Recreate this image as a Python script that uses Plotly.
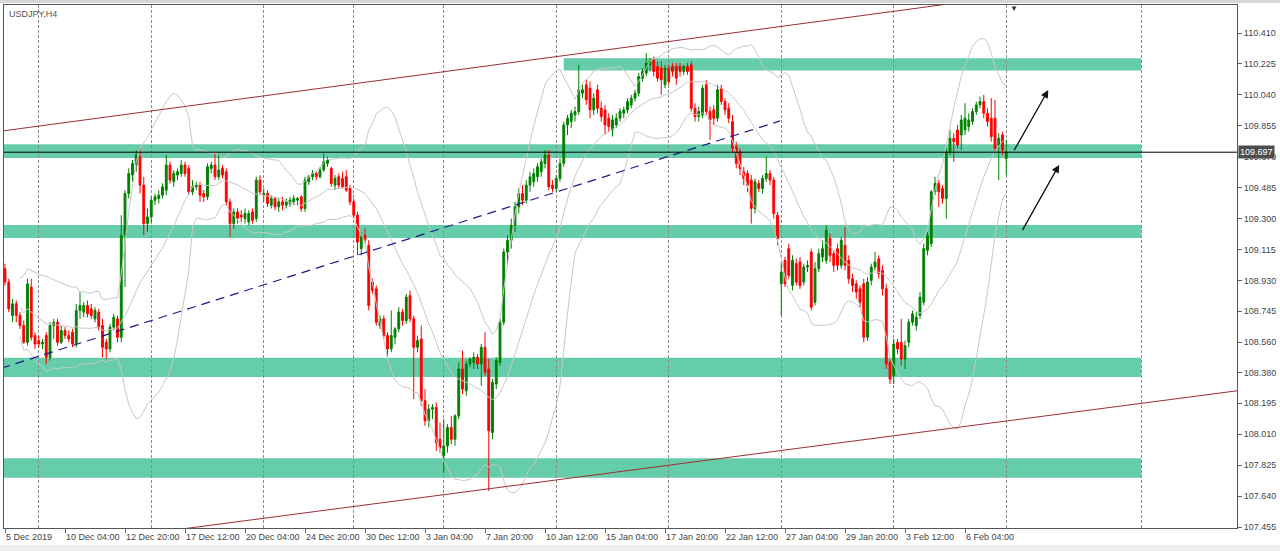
import plotly.graph_objects as go
import pandas as pd

# ---------------- data (USDJPY H4, bar index 0 = 5 Dec 2019 12:00) ----------------
bar_open = [
    109.00, 108.92, 108.72, 108.79, 108.72, 108.66, 108.56, 108.89, 108.60, 108.57,
    108.55, 108.60, 108.47, 108.66, 108.68, 108.56, 108.63, 108.60, 108.62, 108.55,
    108.75, 108.74, 108.78, 108.76, 108.70, 108.74, 108.66, 108.56, 108.52, 108.65,
    108.70, 108.59, 109.20, 109.45, 109.56, 109.62, 109.67, 109.50, 109.27, 109.31,
    109.41, 109.42, 109.44, 109.47, 109.62, 109.52, 109.56, 109.57, 109.62, 109.60,
    109.46, 109.49, 109.50, 109.45, 109.43, 109.60, 109.62, 109.55, 109.60, 109.58,
    109.40, 109.27, 109.34, 109.32, 109.30, 109.28, 109.34, 109.30, 109.53, 109.44,
    109.45, 109.38, 109.42, 109.37, 109.40, 109.38, 109.39, 109.40, 109.41, 109.43,
    109.36, 109.52, 109.55, 109.57, 109.55, 109.59, 109.63, 109.60, 109.50, 109.55,
    109.54, 109.55, 109.48, 109.40, 109.32, 109.12, 109.20, 109.14, 108.92, 108.88,
    108.66, 108.70, 108.60, 108.52, 108.59, 108.64, 108.74, 108.69, 108.84, 108.70,
    108.53, 108.58, 108.21, 108.09, 108.16, 108.17, 107.98, 107.88, 107.94, 108.05,
    107.98, 108.12, 108.40, 108.27, 108.43, 108.44, 108.47, 108.43, 108.53, 108.40,
    108.02, 108.31, 108.44, 108.68, 109.10, 109.17, 109.26, 109.37, 109.45, 109.41,
    109.50, 109.52, 109.55, 109.58, 109.63, 109.68, 109.50, 109.48, 109.54, 109.63,
    109.86, 109.88, 109.92, 109.94, 110.05, 110.10, 110.08, 109.95, 110.07, 109.96,
    109.95, 109.90, 109.83, 109.86, 109.90, 109.93, 109.95, 109.98, 110.02, 110.05,
    110.14, 110.17, 110.22, 110.25, 110.21, 110.20, 110.10, 110.20, 110.21, 110.21,
    110.21, 110.18, 110.21, 110.22, 109.96, 109.91, 109.92, 110.10, 109.94, 109.95,
    109.90, 110.08, 110.00, 109.96, 109.88, 109.73, 109.70, 109.58, 109.57, 109.53,
    109.36, 109.51, 109.48, 109.54, 109.57, 109.53, 109.32, 108.91, 109.05, 109.12,
    108.90, 109.03, 109.04, 108.92, 109.01, 109.10, 108.80, 109.00, 109.07, 109.05,
    109.18, 109.09, 109.12, 109.02, 109.14, 109.05, 108.94, 108.91, 108.88, 108.91,
    108.59, 108.93, 109.01, 109.06, 108.99, 108.88, 108.44, 108.36, 108.56, 108.56,
    108.46, 108.56, 108.68, 108.66, 108.72, 108.80, 109.11, 109.15, 109.46, 109.51,
    109.48, 109.42, 109.70, 109.78, 109.83, 109.80, 109.83, 109.85, 109.88, 109.94,
    109.98, 110.00, 109.93, 109.90, 109.90, 109.74, 109.80, 109.66,
]
bar_high = [
    109.03, 108.94, 108.82, 108.81, 108.74, 108.69, 108.94, 108.94, 108.62, 108.60,
    108.58, 108.62, 108.68, 108.70, 108.70, 108.66, 108.65, 108.63, 108.64, 108.79,
    108.86, 108.80, 108.81, 108.79, 108.77, 108.76, 108.70, 108.58, 108.67, 108.73,
    108.72, 109.32, 109.47, 109.60, 109.65, 109.71, 109.72, 109.55, 109.36, 109.43,
    109.45, 109.47, 109.51, 109.68, 109.64, 109.59, 109.60, 109.65, 109.64, 109.62,
    109.53, 109.52, 109.52, 109.47, 109.63, 109.64, 109.69, 109.69, 109.62, 109.60,
    109.42, 109.36, 109.36, 109.35, 109.36, 109.35, 109.36, 109.55, 109.56, 109.48,
    109.47, 109.44, 109.43, 109.42, 109.43, 109.42, 109.43, 109.44, 109.43, 109.44,
    109.55, 109.56, 109.59, 109.58, 109.61, 109.69, 109.67, 109.61, 109.56, 109.57,
    109.58, 109.59, 109.50, 109.42, 109.34, 109.22, 109.24, 109.17, 108.94, 108.90,
    108.72, 108.72, 108.62, 108.75, 108.65, 108.77, 108.76, 108.85, 108.87, 108.72,
    108.60, 108.66, 108.28, 108.19, 108.19, 108.20, 108.08, 108.10, 108.07, 108.12,
    108.13, 108.44, 108.51, 108.45, 108.47, 108.50, 108.49, 108.55, 108.62, 108.46,
    108.34, 108.47, 108.70, 109.12, 109.20, 109.30, 109.40, 109.48, 109.50, 109.53,
    109.58, 109.60, 109.63, 109.66, 109.71, 109.71, 109.53, 109.56, 109.66, 109.88,
    109.92, 109.95, 109.97, 110.22, 110.10, 110.13, 110.12, 110.05, 110.10, 110.00,
    109.98, 109.93, 109.92, 109.93, 109.96, 109.97, 110.02, 110.04, 110.07, 110.17,
    110.20, 110.29, 110.26, 110.27, 110.24, 110.24, 110.22, 110.22, 110.23, 110.23,
    110.23, 110.22, 110.23, 110.24, 109.99, 109.97, 110.10, 110.13, 109.97, 109.98,
    110.10, 110.10, 110.02, 109.99, 109.92, 109.76, 109.72, 109.61, 109.59, 109.56,
    109.54, 109.53, 109.56, 109.67, 109.59, 109.55, 109.34, 109.04, 109.07, 109.15,
    109.08, 109.06, 109.07, 109.03, 109.05, 109.12, 109.04, 109.12, 109.17, 109.26,
    109.21, 109.11, 109.15, 109.19, 109.25, 109.08, 108.97, 108.93, 108.90, 108.94,
    108.95, 109.03, 109.10, 109.08, 109.02, 108.91, 108.46, 108.58, 108.58, 108.70,
    108.57, 108.70, 108.75, 108.74, 108.86, 109.15, 109.22, 109.47, 109.55, 109.53,
    109.50, 109.72, 109.83, 109.81, 109.86, 109.92, 109.99, 109.93, 109.96, 110.00,
    110.03, 110.04, 109.96, 110.02, 110.01, 109.81, 109.82, 109.77,
]
bar_low = [
    108.90, 108.74, 108.68, 108.68, 108.64, 108.55, 108.54, 108.57, 108.52, 108.53,
    108.52, 108.43, 108.45, 108.58, 108.54, 108.55, 108.58, 108.56, 108.53, 108.53,
    108.70, 108.71, 108.71, 108.70, 108.68, 108.63, 108.47, 108.46, 108.50, 108.63,
    108.56, 108.56, 108.89, 109.42, 109.52, 109.58, 109.45, 109.20, 109.22, 109.27,
    109.38, 109.39, 109.42, 109.44, 109.51, 109.49, 109.53, 109.55, 109.55, 109.44,
    109.44, 109.47, 109.40, 109.40, 109.41, 109.57, 109.53, 109.53, 109.54, 109.38,
    109.19, 109.24, 109.27, 109.28, 109.27, 109.26, 109.27, 109.28, 109.44, 109.40,
    109.37, 109.36, 109.35, 109.34, 109.35, 109.36, 109.37, 109.38, 109.38, 109.34,
    109.34, 109.50, 109.53, 109.53, 109.54, 109.58, 109.61, 109.49, 109.47, 109.48,
    109.48, 109.46, 109.38, 109.30, 109.08, 109.08, 109.15, 108.75, 108.85, 108.66,
    108.64, 108.58, 108.47, 108.50, 108.55, 108.62, 108.66, 108.67, 108.68, 108.22,
    108.50, 108.18, 108.06, 108.05, 108.10, 107.91, 107.90, 107.78, 107.90, 107.95,
    107.94, 108.10, 108.25, 108.24, 108.41, 108.40, 108.40, 108.30, 108.36, 107.67,
    107.98, 108.28, 108.42, 108.66, 109.02, 109.12, 109.22, 109.33, 109.38, 109.39,
    109.46, 109.49, 109.52, 109.55, 109.60, 109.47, 109.46, 109.46, 109.52, 109.61,
    109.80, 109.84, 109.88, 109.92, 110.02, 109.98, 109.90, 109.92, 109.93, 109.88,
    109.80, 109.82, 109.79, 109.84, 109.88, 109.90, 109.93, 109.96, 110.00, 110.03,
    110.12, 110.15, 110.18, 110.15, 110.12, 110.04, 110.08, 110.10, 110.15, 110.10,
    110.15, 110.16, 110.16, 109.94, 109.88, 109.88, 109.90, 109.92, 109.77, 109.86,
    109.88, 109.98, 109.92, 109.87, 109.70, 109.60, 109.56, 109.50, 109.46, 109.27,
    109.33, 109.46, 109.45, 109.52, 109.50, 109.30, 109.14, 108.72, 108.89, 108.94,
    108.87, 108.90, 108.88, 108.90, 108.98, 108.75, 108.78, 108.98, 109.04, 109.03,
    109.04, 108.98, 108.99, 109.00, 108.99, 108.91, 108.86, 108.82, 108.77, 108.56,
    108.57, 108.90, 108.99, 108.94, 108.84, 108.40, 108.31, 108.31, 108.49, 108.42,
    108.40, 108.53, 108.66, 108.63, 108.70, 108.78, 109.08, 109.13, 109.44, 109.37,
    109.39, 109.30, 109.68, 109.64, 109.72, 109.71, 109.80, 109.82, 109.86, 109.92,
    109.96, 109.90, 109.85, 109.76, 109.69, 109.53, 109.68, 109.56,
]
bar_close = [
    108.92, 108.76, 108.79, 108.72, 108.66, 108.56, 108.91, 108.59, 108.55, 108.55,
    108.56, 108.47, 108.66, 108.68, 108.56, 108.63, 108.60, 108.58, 108.55, 108.75,
    108.78, 108.78, 108.73, 108.72, 108.75, 108.65, 108.53, 108.52, 108.65, 108.71,
    108.59, 109.20, 109.45, 109.57, 109.63, 109.68, 109.50, 109.27, 109.31, 109.41,
    109.43, 109.44, 109.49, 109.62, 109.53, 109.57, 109.58, 109.62, 109.57, 109.46,
    109.49, 109.50, 109.44, 109.43, 109.61, 109.62, 109.55, 109.59, 109.56, 109.40,
    109.27, 109.34, 109.30, 109.31, 109.33, 109.33, 109.29, 109.53, 109.46, 109.45,
    109.39, 109.42, 109.37, 109.40, 109.38, 109.40, 109.41, 109.42, 109.42, 109.36,
    109.53, 109.55, 109.57, 109.55, 109.59, 109.64, 109.65, 109.51, 109.54, 109.50,
    109.49, 109.47, 109.40, 109.32, 109.16, 109.19, 109.17, 108.78, 108.87, 108.68,
    108.70, 108.60, 108.52, 108.60, 108.64, 108.74, 108.69, 108.83, 108.70, 108.53,
    108.57, 108.21, 108.09, 108.16, 108.17, 107.96, 107.93, 107.94, 108.05, 107.98,
    108.12, 108.40, 108.28, 108.43, 108.46, 108.47, 108.43, 108.53, 108.38, 108.03,
    108.32, 108.45, 108.68, 109.10, 109.17, 109.26, 109.37, 109.45, 109.41, 109.50,
    109.55, 109.57, 109.61, 109.64, 109.68, 109.49, 109.48, 109.54, 109.63, 109.86,
    109.90, 109.93, 109.94, 110.07, 110.07, 110.01, 109.95, 110.02, 109.96, 109.91,
    109.86, 109.85, 109.89, 109.90, 109.94, 109.95, 110.00, 110.02, 110.05, 110.15,
    110.18, 110.23, 110.24, 110.18, 110.14, 110.13, 110.20, 110.12, 110.18, 110.14,
    110.18, 110.21, 110.18, 109.96, 109.91, 109.94, 110.08, 109.94, 109.89, 109.90,
    110.07, 110.00, 109.95, 109.90, 109.72, 109.63, 109.60, 109.54, 109.50, 109.36,
    109.52, 109.48, 109.54, 109.57, 109.53, 109.33, 109.18, 108.98, 108.91, 108.96,
    109.05, 108.92, 108.90, 109.01, 109.02, 108.77, 109.00, 109.09, 109.12, 109.23,
    109.08, 109.02, 109.02, 109.17, 109.02, 108.94, 108.90, 108.86, 108.80, 108.59,
    108.92, 109.01, 109.04, 108.97, 108.88, 108.43, 108.34, 108.55, 108.52, 108.46,
    108.54, 108.68, 108.73, 108.71, 108.83, 109.12, 109.20, 109.46, 109.51, 109.46,
    109.42, 109.70, 109.78, 109.76, 109.74, 109.89, 109.90, 109.89, 109.94, 109.98,
    110.00, 109.93, 109.88, 109.79, 109.72, 109.78, 109.71, 109.697,
]
bar_index = list(range(len(bar_close)))
last_price = 109.697

# time axis labels (every 16 H4 bars)
time_tick_bars = [0, 16, 32, 48, 64, 80, 96, 112, 128, 144, 160, 176, 192, 208, 224, 240, 256]
time_tick_labels = ["5 Dec 2019", "10 Dec 04:00", "12 Dec 20:00", "17 Dec 12:00", "20 Dec 04:00",
                    "24 Dec 20:00", "30 Dec 12:00", "3 Jan 04:00", "7 Jan 20:00", "10 Jan 12:00",
                    "15 Jan 04:00", "17 Jan 20:00", "22 Jan 12:00", "27 Jan 04:00", "29 Jan 20:00",
                    "3 Feb 12:00", "6 Feb 04:00"]
# Monday 00:00 bars (weekly vertical grid)
week_start_bars = [9, 39, 69, 93, 117, 147, 177, 207, 237, 267, 303]

price_ticks = [107.455, 107.640, 107.825, 108.010, 108.195, 108.380, 108.560, 108.745, 108.930,
               109.115, 109.300, 109.485, 109.670, 109.855, 110.040, 110.225, 110.410]

# support / resistance zones
zone_start = [149, -1, -1, -1, -1]
zone_end = [303, 303, 303, 303, 303]
zone_low = [110.185, 109.662, 109.184, 108.352, 107.750]
zone_high = [110.259, 109.745, 109.262, 108.468, 107.866]

# drawn lines (bar, price)
upper_channel_bars = [-1, 255]
upper_channel_prices = [109.823, 110.594]
lower_channel_bars = [40, 330]
lower_channel_prices = [107.422, 108.274]
support_bars = [-1, 206.7]
support_prices = [108.405, 109.884]

# arrows (tail -> head)
arrow_tail_bars = [268.9, 271.1]
arrow_tail_prices = [109.700, 109.222]
arrow_head_bars = [278.2, 281.1]
arrow_head_prices = [110.069, 109.621]

bb_period = 20
bb_dev = 2.0

# ---------------- figure ----------------
closes = pd.Series(bar_close)
bb_mid = closes.rolling(bb_period, min_periods=5).mean()
bb_sd = closes.rolling(bb_period, min_periods=5).std(ddof=0)
bb_up = bb_mid + bb_dev * bb_sd
bb_lo = bb_mid - bb_dev * bb_sd

fig = go.Figure()

band_style = dict(color="#c8c8c8", width=1)
for band in (bb_up, bb_mid, bb_lo):
    fig.add_trace(go.Scatter(x=bar_index, y=band, mode="lines", line=band_style,
                             hoverinfo="skip", showlegend=False))

fig.add_trace(go.Candlestick(
    x=bar_index, open=bar_open, high=bar_high, low=bar_low, close=bar_close,
    increasing=dict(line=dict(color="#008000", width=1), fillcolor="#008000"),
    decreasing=dict(line=dict(color="#ff0000", width=1), fillcolor="#ff0000"),
    whiskerwidth=0, showlegend=False))

fig.add_trace(go.Scatter(x=upper_channel_bars, y=upper_channel_prices, mode="lines",
                         line=dict(color="#9e2f35", width=1), hoverinfo="skip", showlegend=False))
fig.add_trace(go.Scatter(x=lower_channel_bars, y=lower_channel_prices, mode="lines",
                         line=dict(color="#9e2f35", width=1), hoverinfo="skip", showlegend=False))
fig.add_trace(go.Scatter(x=support_bars, y=support_prices, mode="lines",
                         line=dict(color="#1a1a8c", width=1.2, dash="9px,6px"),
                         hoverinfo="skip", showlegend=False))

shapes = []
for x0, x1, y0, y1 in zip(zone_start, zone_end, zone_low, zone_high):
    shapes.append(dict(type="rect", xref="x", yref="y", x0=x0, x1=x1, y0=y0, y1=y1,
                       fillcolor="#66cdaa", line=dict(width=0), layer="below"))
shapes.append(dict(type="line", xref="paper", yref="y", x0=0, x1=1, y0=last_price, y1=last_price,
                   line=dict(color="#000000", width=1), layer="above"))
# window chrome
shapes.append(dict(type="rect", xref="paper", yref="paper", x0=-0.01, x1=1.05,
                   y0=1.0 + 2 / 523, y1=1.0 + 6 / 523, fillcolor="#d6d6d6", line=dict(width=0)))
shapes.append(dict(type="rect", xref="paper", yref="paper", x0=-0.01, x1=1.05,
                   y0=-23 / 523, y1=-17 / 523, fillcolor="#efefef", line=dict(width=0)))

annotations = []
for tb, tp, hb, hp in zip(arrow_tail_bars, arrow_tail_prices, arrow_head_bars, arrow_head_prices):
    annotations.append(dict(x=hb, y=hp, ax=tb, ay=tp, xref="x", yref="y", axref="x", ayref="y",
                            text="", showarrow=True, arrowhead=2, arrowsize=1.2, arrowwidth=1.3,
                            arrowcolor="#111111"))
annotations.append(dict(x=0, y=1, xref="paper", yref="paper", xanchor="left", yanchor="top",
                        xshift=3, yshift=-2, text="USDJPY,H4", showarrow=False,
                        font=dict(size=9, color="#555555")))
annotations.append(dict(x=1, y=last_price, xref="paper", yref="y", xanchor="left", yanchor="middle",
                        xshift=1, text=f"{last_price:.3f}", showarrow=False, bgcolor="#4d4d4d",
                        borderpad=1, font=dict(size=9, color="#ffffff")))
annotations.append(dict(x=269, y=1, xref="x", yref="paper", xanchor="center", yanchor="top",
                        yshift=3, text="▼", showarrow=False, font=dict(size=8, color="#333333")))

fig.update_layout(
    width=1280, height=551,
    margin=dict(l=4, r=43, t=5, b=23, autoexpand=False),
    paper_bgcolor="#ffffff", plot_bgcolor="#ffffff",
    showlegend=False,
    font=dict(family="Liberation Sans, Arial, sans-serif", size=9, color="#444444"),
    shapes=shapes, annotations=annotations,
    xaxis=dict(
        range=[-0.267, 328.53], tickmode="array", tickvals=time_tick_bars, ticktext=time_tick_labels,
        ticks="outside", ticklen=4, tickcolor="#666666", ticklabelposition="outside right",
        tickangle=0, automargin=False,
        showgrid=False, zeroline=False, showline=True, mirror=True, linecolor="#555555",
        rangeslider=dict(visible=False),
        minor=dict(tickmode="array", tickvals=week_start_bars, showgrid=True, gridcolor="#8a8a8a",
                   griddash="3px,2px", gridwidth=1, ticks=""),
    ),
    yaxis=dict(
        side="right", range=[107.449, 110.5775], tickmode="array", tickvals=price_ticks,
        ticktext=[f"{v:.3f}" for v in price_ticks], ticks="outside", ticklen=4, tickcolor="#666666",
        automargin=False,
        showgrid=False, zeroline=False, showline=True, mirror=True, linecolor="#555555",
    ),
)

fig.write_html("out.html", config={"displayModeBar": False},
               post_script="document.body.style.margin='0';document.body.style.overflow='hidden';")
